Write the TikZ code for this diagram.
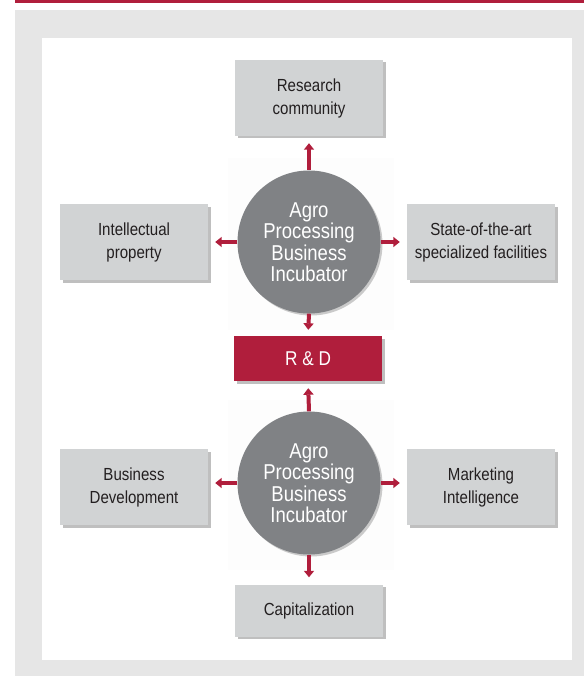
\documentclass[tikz,border=0pt]{standalone}
\usepackage{fontspec}
\setmainfont[FakeStretch=0.86]{Liberation Sans}
\usetikzlibrary{arrows.meta,shadows}
\definecolor{brandred}{HTML}{B01E3C}
\definecolor{boxgrey}{HTML}{D1D3D4}
\definecolor{circgrey}{HTML}{808285}
\definecolor{panelgrey}{HTML}{E6E6E6}
\definecolor{txt}{HTML}{231F20}
\begin{document}
\begin{tikzpicture}[x=1pt,y=-1pt,
  infobox/.style={fill=boxgrey, draw=none, minimum width=148pt, minimum height=76pt,
    align=center, text=txt, font=\fontsize{17.5}{23}\selectfont,
    drop shadow={shadow xshift=2.5pt, shadow yshift=-2.5pt, opacity=0.25, fill=black}},
  hub/.style={circle, fill=circgrey, draw=none, minimum size=143pt, inner sep=0pt,
    align=center, text=white, font=\fontsize{21.5}{21.5}\selectfont,
    drop shadow={shadow xshift=2pt, shadow yshift=-2pt, opacity=0.2, fill=black}},
  rdbox/.style={fill=brandred, draw=none, minimum width=148pt, minimum height=45pt,
    text=white, font=\fontsize{20}{22}\selectfont,
    drop shadow={shadow xshift=2.5pt, shadow yshift=-2.5pt, opacity=0.25, fill=black}},
  arr/.style={draw=brandred, line width=4pt, -{Triangle[width=10pt,length=6.5pt]}, shorten >=7pt}]
\useasboundingbox (0,0) rectangle (584,676);
% frame
\fill[brandred] (15,0) rectangle (584,3);
\fill[panelgrey] (15,10) rectangle (584,676);
\fill[white] (42,38) rectangle (572,660);
% faint halos
\fill[black!0.8] (228,158) rectangle (394,330);
\fill[black!0.8] (228,400) rectangle (394,570);
% nodes
\node[infobox] (rc) at (309,98) {Research\\community};
\node[infobox] (ip) at (134,242) {Intellectual\\property};
\node[infobox] (sf) at (481,242) {State-of-the-art\\specialized facilities};
\node[hub] (h1) at (309,242) {Agro\\Processing\\Business\\Incubator};
\node[rdbox] (rd) at (308,358.5) {R \& D};
\node[hub] (h2) at (309,483) {Agro\\Processing\\Business\\Incubator};
\node[infobox] (bd) at (134,487) {Business\\Development};
\node[infobox] (mi) at (481,487) {Marketing\\Intelligence};
\node[infobox, minimum height=52pt] (cp) at (309,610.5) {Capitalization};
% arrows
\draw[arr] (h1.north) -- (rc.south);
\draw[arr] (h1.west) -- (h1.west -| ip.east);
\draw[arr] (h1.east) -- (h1.east -| sf.west);
\draw[arr, shorten >=6pt] (h1.south) -- (rd.north);
\draw[arr] (h2.north) -- (rd.south);
\draw[arr] (h2.west) -- (h2.west -| bd.east);
\draw[arr] (h2.east) -- (h2.east -| mi.west);
\draw[arr] (h2.south) -- (cp.north);
\end{tikzpicture}
\end{document}
